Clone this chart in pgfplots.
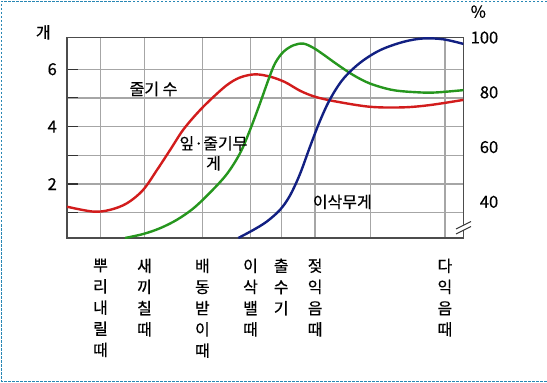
\documentclass[border=0pt]{standalone}
\usepackage{fontspec}
\setmainfont{Noto Sans CJK KR}[FakeBold=0.4]
\usepackage{pgfplots}
\pgfplotsset{compat=1.18}
\definecolor{cred}{RGB}{210,28,28}
\definecolor{cgreen}{RGB}{38,150,30}
\definecolor{cblue}{RGB}{18,32,130}
\definecolor{cframe}{RGB}{40,135,180}
\begin{document}
\begin{tikzpicture}
\useasboundingbox (-67pt,-145pt) rectangle (480pt,238pt);
\draw[cframe, line width=0.8pt, dash pattern=on 2.5pt off 1.5pt] (480pt,236.5pt) -- (-65.5pt,236.5pt) -- (-65.5pt,-143.5pt) -- (480pt,-143.5pt);
\begin{axis}[
  scale only axis, width=396.4pt, height=200.7pt,
  at={(0pt,0pt)}, anchor=south west,
  xmin=67, xmax=463.4, ymin=0.12, ymax=7.11,
  /pgf/number format/assume math mode=true,
  xtick={100.5,144.5,202.4,250.5,281.2,315.1,370.6,444.9},
  xticklabels={{뿌\\리\\내\\릴\\때},{새\\끼\\칠\\때},{배\\동\\받\\이\\때},{이\\삭\\밸\\때},{출\\수\\기},{젖\\익\\음\\때},{},{다\\익\\음\\때}},
  xticklabel style={align=center, anchor=north, font=\fontsize{16}{21.2}\selectfont, yshift=-17pt},
  ytick={1,2,3,4,5,6}, yticklabels={,2,,4,,6},
  yticklabel style={font=\fontsize{16.5}{18}\selectfont, anchor=east, inner sep=0pt, xshift=-10pt},
  ytick pos=left,
  tick align=inside, major tick length=11pt,
  xtick style={draw=none},
  ytick style={draw=black!80, line width=1.2pt},
  grid=major, major grid style={draw=black!35, line width=1.3pt},
  axis line style={draw=black!70, line width=1.5pt},
  clip=true,
]
\addplot[cred, line width=2.4pt, smooth, tension=0.55] coordinates {
(67,1.21)(93,1.04)(110,1.10)(127,1.33)(143,1.79)(157,2.49)(170,3.18)(183,3.88)(197,4.46)(210,4.92)(226.7,5.44)(240,5.71)(255,5.82)(270,5.74)(285,5.55)(300,5.25)(315,5.04)(335,4.88)(370,4.69)(403,4.67)(430,4.75)(463.4,4.93)};
\addplot[cgreen, line width=2.4pt, smooth, tension=0.55] coordinates {
(125,0.12)(143.3,0.26)(160,0.46)(176.7,0.75)(193.3,1.15)(210,1.70)(226.7,2.34)(240,3.07)(250,3.88)(260,4.81)(268.3,5.62)(275,6.20)(283.3,6.60)(293.3,6.83)(303.3,6.89)(313,6.75)(323,6.52)(337,6.17)(353,5.80)(370,5.50)(393.3,5.27)(420,5.19)(436.7,5.19)(463.4,5.27)};
\addplot[cblue, line width=2.4pt, smooth, tension=0.55] coordinates {
(238.3,0.12)(253.3,0.40)(266.7,0.69)(280,1.10)(290,1.60)(300,2.35)(310,3.30)(320,4.20)(330,4.95)(343,5.65)(360,6.22)(380,6.66)(403.3,6.95)(423.3,7.07)(443.3,7.04)(463.4,6.88)};
\node[font=\fontsize{16}{20}\selectfont] at (axis cs:153.5,5.31) {줄기 수};
\node[font=\fontsize{16}{20}\selectfont, align=center] at (axis cs:213.5,3.07) {잎·줄기무\\게};
\node[font=\fontsize{16}{20}\selectfont] at (axis cs:342.3,1.38) {이삭무게};
\end{axis}
\begin{axis}[
  scale only axis, width=396.4pt, height=200.7pt,
  at={(0pt,0pt)}, anchor=south west,
  xmin=67, xmax=463.4, ymin=26.8, ymax=100.1,
  /pgf/number format/assume math mode=true,
  axis x line=none, axis y line*=right,
  y axis line style={draw=none},
  ytick={40,60,80,100}, major tick length=0pt,
  yticklabel style={font=\fontsize{16.5}{18}\selectfont, anchor=east, inner sep=0pt, xshift=35pt},
]
\addplot[draw=none] coordinates {(100,50)};
\end{axis}
% axis break mark on right axis
\fill[white] (392pt,6pt) -- (408pt,14pt) -- (408pt,19pt) -- (392pt,11pt) -- cycle;
\draw[black!80, line width=1pt] (389pt,4pt) -- (404pt,11.5pt);
\draw[black!80, line width=1pt] (389pt,9pt) -- (404pt,16.5pt);
\node[font=\fontsize{16.5}{18}\selectfont] at (411.3pt,226.3pt) {\%};
\node[font=\fontsize{16}{18}\selectfont] at (-23.7pt,205.7pt) {개};
\end{tikzpicture}
\end{document}
